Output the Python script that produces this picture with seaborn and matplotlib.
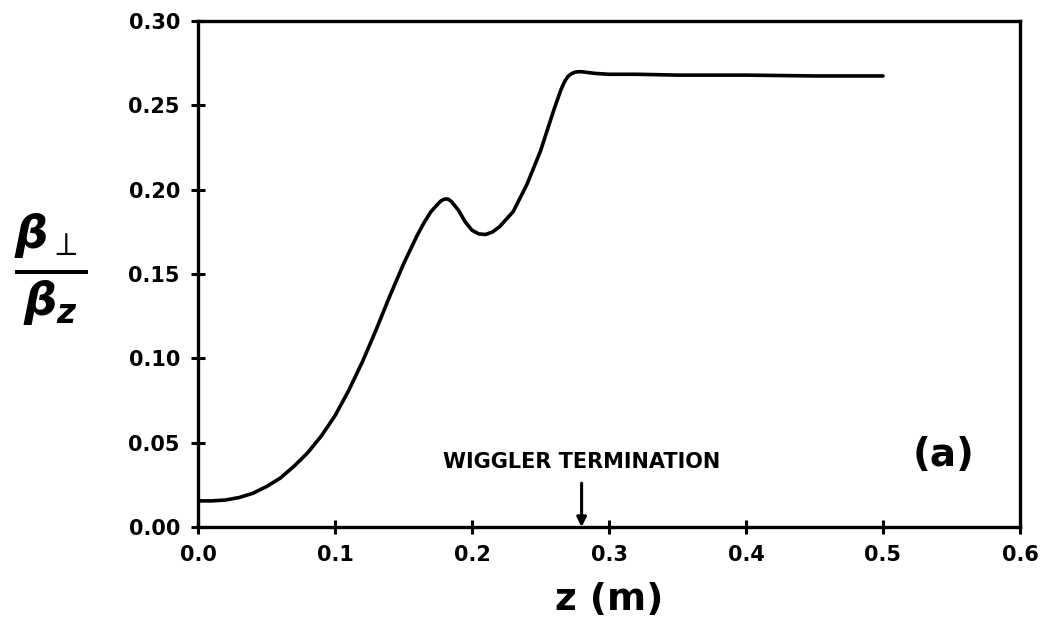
import numpy as np
import pandas as pd
import seaborn as sns
import matplotlib
matplotlib.use("Agg")
import matplotlib.pyplot as plt

# Transverse-to-axial velocity ratio along the interaction region
z_m = [0.0, 0.01, 0.02, 0.03, 0.04, 0.05, 0.06, 0.07, 0.08, 0.09, 0.10,
       0.11, 0.12, 0.13, 0.14, 0.15, 0.16, 0.165, 0.17, 0.175, 0.1775,
       0.18, 0.1825, 0.185, 0.19, 0.195, 0.20, 0.205, 0.21, 0.215, 0.22,
       0.23, 0.24, 0.25, 0.26, 0.265, 0.2675, 0.27, 0.2725, 0.275, 0.2775,
       0.28, 0.285, 0.29, 0.30, 0.32, 0.35, 0.40, 0.45, 0.50]
beta_ratio = [0.0155, 0.0155, 0.016, 0.0175, 0.020, 0.024, 0.029, 0.036,
              0.044, 0.054, 0.066, 0.081, 0.098, 0.117, 0.137, 0.156, 0.173,
              0.1805, 0.187, 0.1915, 0.1935, 0.1945, 0.1945, 0.193, 0.188,
              0.181, 0.176, 0.1738, 0.1735, 0.175, 0.178, 0.187, 0.203,
              0.223, 0.248, 0.2595, 0.264, 0.2672, 0.2688, 0.2697, 0.2700,
              0.2700, 0.2695, 0.2690, 0.2685, 0.2685, 0.268, 0.268, 0.2675,
              0.2675]

x_ticks = [0.0, 0.1, 0.2, 0.3, 0.4, 0.5, 0.6]
x_tick_labels = ["0.0", "0.1", "0.2", "0.3", "0.4", "0.5", "0.6"]
y_ticks = [0.00, 0.05, 0.10, 0.15, 0.20, 0.25, 0.30]
y_tick_labels = ["0.00", "0.05", "0.10", "0.15", "0.20", "0.25", "0.30"]

termination_z = 0.28

df = pd.DataFrame({"z": z_m, "ratio": beta_ratio})

sns.set_style("ticks")
plt.rcParams["font.family"] = ["DejaVu Sans"]
plt.rcParams["mathtext.fontset"] = "custom"
plt.rcParams["mathtext.rm"] = "DejaVu Sans"
plt.rcParams["mathtext.it"] = "DejaVu Sans:italic:bold"
plt.rcParams["mathtext.bf"] = "DejaVu Sans:bold"
plt.rcParams["text.color"] = "black"
plt.rcParams["axes.labelcolor"] = "black"

fig = plt.figure(figsize=(10.5, 6.41), dpi=100)
ax = fig.add_axes([0.1886, 0.1778, 0.7828, 0.7892])

sns.lineplot(data=df, x="z", y="ratio", ax=ax, color="black",
             linewidth=2.6, solid_capstyle="round", solid_joinstyle="round")

ax.set_xlim(0.0, 0.6)
ax.set_ylim(0.0, 0.30)
ax.set_xticks(x_ticks)
ax.set_xticklabels(x_tick_labels)
ax.set_yticks(y_ticks)
ax.set_yticklabels(y_tick_labels)

for side in ["left", "right", "top", "bottom"]:
    ax.spines[side].set_linewidth(2.4)
    ax.spines[side].set_color("black")

ax.tick_params(axis="both", direction="inout", length=10, width=2.2,
               labelsize=15, colors="black")
ax.tick_params(axis="x", pad=8)
ax.tick_params(axis="y", pad=8)
for lab in ax.get_xticklabels() + ax.get_yticklabels():
    lab.set_fontweight("bold")

ax.set_xlabel("z (m)", fontsize=27, fontweight="bold", labelpad=12,
              color="black")
ax.set_ylabel("")

# Label for the vertical axis drawn as a stacked ratio
fig.text(0.048, 0.579, r"$\frac{\beta_{\perp}}{\beta_{z}}$",
         fontsize=48, ha="center", va="center", color="black")

# Marker for the end of the wiggler
ax.text(termination_z, 0.0385, "WIGGLER TERMINATION", fontsize=15,
        fontweight="bold", ha="center", va="center", color="black")
ax.annotate("", xy=(termination_z, 0.0), xytext=(termination_z, 0.026),
            arrowprops=dict(arrowstyle="-|>", color="black", lw=2.2,
                            mutation_scale=14, shrinkA=0, shrinkB=0))

ax.text(0.544, 0.043, "(a)", fontsize=28, fontweight="bold",
        ha="center", va="center", color="black")

fig.savefig("out.png", dpi=100, facecolor="white")
